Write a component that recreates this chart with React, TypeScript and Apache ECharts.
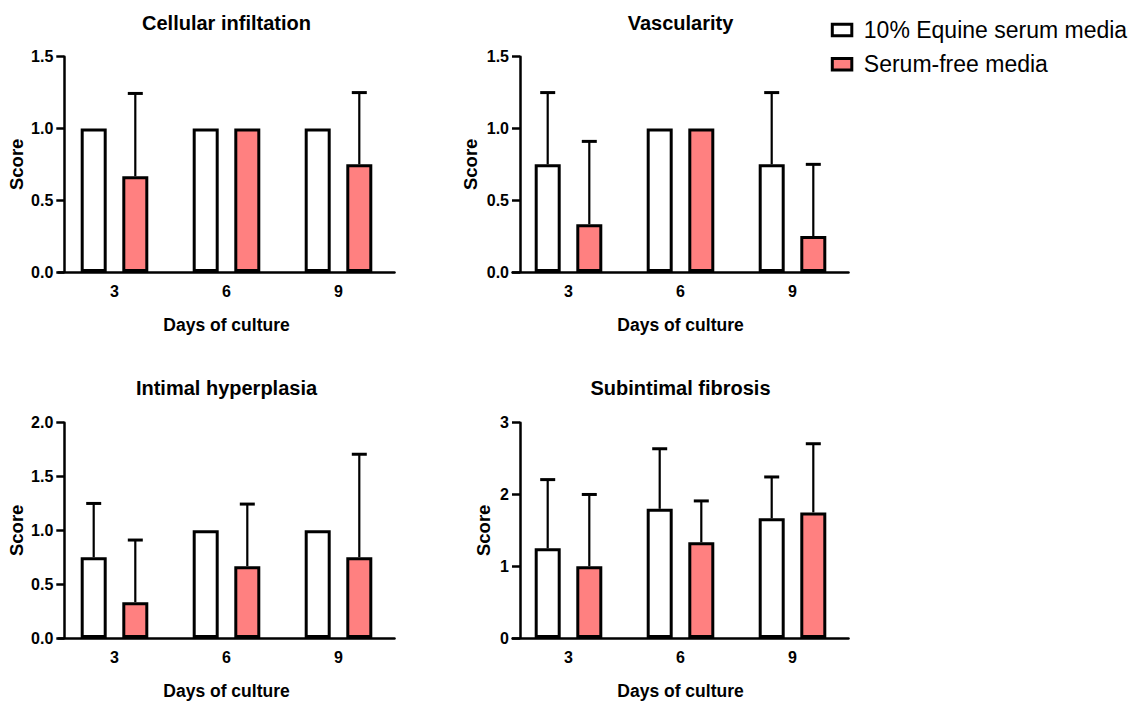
import React, { useEffect, useRef } from "react";
import * as echarts from "echarts";

// Days of culture (category axis)
const days = ["3", "6", "9"];
const groupNames = ["10% Equine serum media", "Serum-free media"];

// Mean scores and SDs per day, per medium
const cellularSerum = [1, 1, 1];
const cellularSerumSd = [0, 0, 0];
const cellularFree = [0.667, 1, 0.75];
const cellularFreeSd = [0.577, 0, 0.5];

const vascularSerum = [0.75, 1, 0.75];
const vascularSerumSd = [0.5, 0, 0.5];
const vascularFree = [0.333, 1, 0.25];
const vascularFreeSd = [0.577, 0, 0.5];

const intimalSerum = [0.75, 1, 1];
const intimalSerumSd = [0.5, 0, 0];
const intimalFree = [0.333, 0.667, 0.75];
const intimalFreeSd = [0.577, 0.577, 0.957];

const fibrosisSerum = [1.25, 1.8, 1.667];
const fibrosisSerumSd = [0.957, 0.837, 0.577];
const fibrosisFree = [1, 1.333, 1.75];
const fibrosisFreeSd = [1, 0.577, 0.957];

const panelTitles = ["Cellular infiltation", "Vascularity", "Intimal hyperplasia", "Subintimal fibrosis"];
const yMaxes = [1.5, 1.5, 2, 3];
const yIntervals = [0.5, 0.5, 0.5, 1];
const yDecimals = [1, 1, 1, 0];

const FONT = "'Liberation Sans', Arial, Helvetica, sans-serif";
const RED = "#FF8080";
const BAR_W = 26;
const BAR_GAP = 0.6;
const HALF_SPREAD = (BAR_W * (1 + BAR_GAP)) / 2;

type Panel = {
  serum: number[];
  serumSd: number[];
  free: number[];
  freeSd: number[];
  left: number;
  top: number;
  axisX: number;
  nameGapY: number;
};

const panels: Panel[] = [
  { serum: cellularSerum, serumSd: cellularSerumSd, free: cellularFree, freeSd: cellularFreeSd, left: 58.5, top: 56.7, axisX: 64.3, nameGapY: 38 },
  { serum: vascularSerum, serumSd: vascularSerumSd, free: vascularFree, freeSd: vascularFreeSd, left: 512.5, top: 56.7, axisX: 520, nameGapY: 40 },
  { serum: intimalSerum, serumSd: intimalSerumSd, free: intimalFree, freeSd: intimalFreeSd, left: 58.5, top: 422.7, axisX: 64.3, nameGapY: 38 },
  { serum: fibrosisSerum, serumSd: fibrosisSerumSd, free: fibrosisFree, freeSd: fibrosisFreeSd, left: 512.5, top: 422.7, axisX: 520, nameGapY: 27.5 },
];

const GRID_W = 336;
const GRID_H = 215.3;

function errorBarSeries(k: number, means: number[], sds: number[], offset: number, name: string) {
  return {
    type: "custom",
    name,
    xAxisIndex: k,
    yAxisIndex: k,
    z: 5,
    encode: { x: 0, y: 1 },
    data: means.map((m, i) => [i, m, sds[i]]),
    renderItem: (_params: any, api: any) => {
      const idx = api.value(0);
      const mean = api.value(1);
      const sd = api.value(2);
      if (!sd) return { type: "group", children: [] };
      const base = api.coord([idx, mean]);
      const tip = api.coord([idx, mean + sd]);
      const x = base[0] + offset;
      return {
        type: "group",
        children: [
          { type: "line", shape: { x1: x, y1: base[1], x2: x, y2: tip[1] }, style: { stroke: "#000", lineWidth: 2.2 } },
          { type: "line", shape: { x1: x - 7.5, y1: tip[1], x2: x + 7.5, y2: tip[1] }, style: { stroke: "#000", lineWidth: 3 } },
        ],
      };
    },
  };
}

export default function App() {
  const ref = useRef<HTMLDivElement>(null);

  useEffect(() => {
    if (!ref.current) return;
    const chart = echarts.init(ref.current, undefined, { renderer: "svg" });

    const grids = panels.map((p) => ({ left: p.left, top: p.top, width: GRID_W, height: GRID_H, containLabel: false }));

    const xAxes = panels.map((_p, k) => ({
      type: "category",
      gridIndex: k,
      data: days,
      axisLine: { lineStyle: { color: "#000", width: 2.5 } },
      axisTick: { alignWithLabel: true, length: 8, lineStyle: { color: "#000", width: 2.5 } },
      axisLabel: { color: "#000", fontSize: 16, fontWeight: "bold", fontFamily: FONT, margin: 11 },
      name: "Days of culture",
      nameLocation: "middle",
      nameGap: 44,
      nameTextStyle: { color: "#000", fontSize: 17.5, fontWeight: "bold", fontFamily: FONT },
    }));

    const yAxes = panels.map((p, k) => ({
      type: "value",
      gridIndex: k,
      min: 0,
      max: yMaxes[k],
      interval: yIntervals[k],
      offset: p.left - p.axisX,
      axisLine: { show: true, lineStyle: { color: "#000", width: 2.5 } },
      axisTick: { show: true, length: 8, lineStyle: { color: "#000", width: 2.5 } },
      splitLine: { show: false },
      axisLabel: {
        color: "#000",
        fontSize: 16,
        fontWeight: "bold",
        fontFamily: FONT,
        margin: 11,
        formatter: (v: number) => v.toFixed(yDecimals[k]),
      },
      name: "Score",
      nameLocation: "middle",
      nameRotate: 90,
      nameGap: p.nameGapY,
      nameTextStyle: { color: "#000", fontSize: 18.5, fontWeight: "bold", fontFamily: FONT },
    }));

    const series: any[] = [];
    panels.forEach((p, k) => {
      series.push({
        type: "bar",
        name: groupNames[0],
        xAxisIndex: k,
        yAxisIndex: k,
        data: p.serum,
        barWidth: BAR_W,
        barGap: `${BAR_GAP * 100}%`,
        itemStyle: { color: "#fff", borderColor: "#000", borderWidth: 3 },
      });
      series.push({
        type: "bar",
        name: groupNames[1],
        xAxisIndex: k,
        yAxisIndex: k,
        data: p.free,
        barWidth: BAR_W,
        barGap: `${BAR_GAP * 100}%`,
        itemStyle: { color: RED, borderColor: "#000", borderWidth: 3 },
      });
      series.push(errorBarSeries(k, p.serum, p.serumSd, -HALF_SPREAD, "sd-serum"));
      series.push(errorBarSeries(k, p.free, p.freeSd, HALF_SPREAD, "sd-free"));
    });

    const titles = panels.map((p, k) => ({
      text: panelTitles[k],
      left: p.left + GRID_W / 2,
      top: k < 2 ? 12.5 : 377.5,
      textAlign: "center",
      padding: 0,
      textStyle: { color: "#000", fontSize: 20, fontWeight: "bold", fontFamily: FONT },
    }));

    chart.setOption({
      animation: false,
      backgroundColor: "#fff",
      title: titles,
      legend: {
        data: groupNames,
        icon: "rect",
        orient: "vertical",
        left: 830.8,
        top: 18.5,
        padding: 0,
        itemGap: 11.3,
        itemWidth: 19.5,
        itemHeight: 11.5,
        itemStyle: { borderWidth: 3, borderColor: "#000" },
        textStyle: { color: "#000", fontSize: 23, fontFamily: FONT, padding: [0, 0, 0, 7] },
        selectedMode: false,
      },
      grid: grids,
      xAxis: xAxes,
      yAxis: yAxes,
      series,
    });

    return () => chart.dispose();
  }, []);

  return <div ref={ref} style={{ position: "absolute", left: 0, top: 0, width: 1134, height: 703 }} />;
}
